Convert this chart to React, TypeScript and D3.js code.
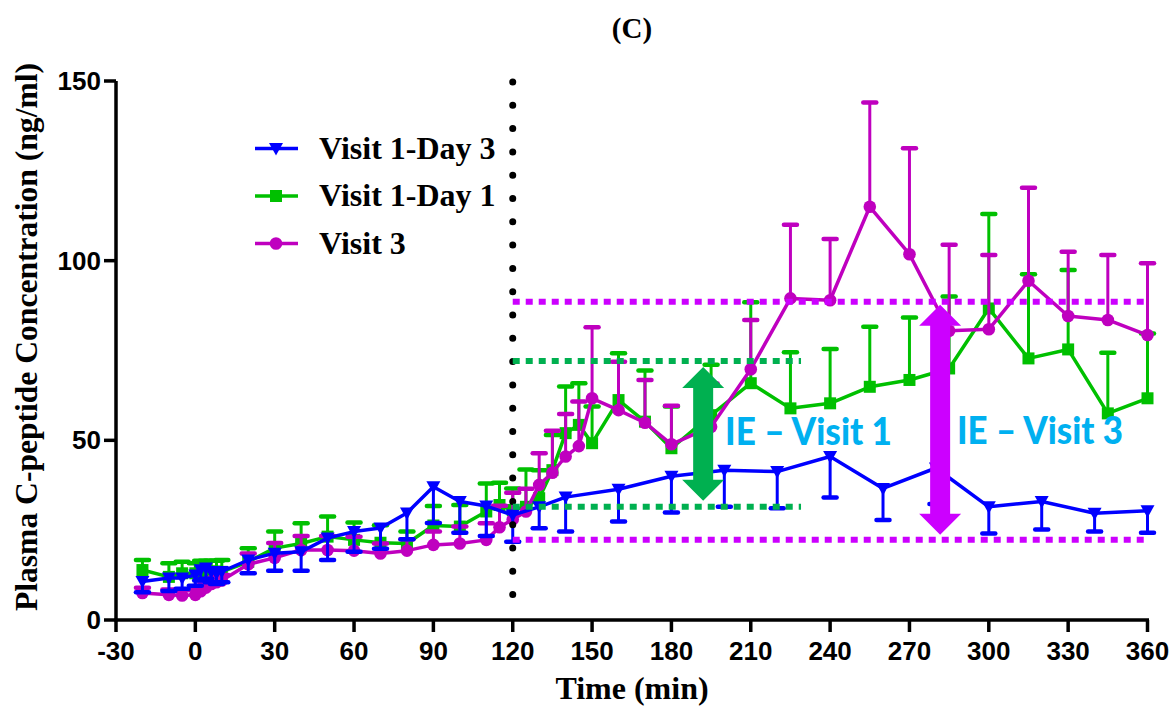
import React from 'react';
import * as d3 from 'd3';

// sampling times (min)
const timesV1D3 = [-20, -10, -5, 0, 2, 4, 6, 8, 10, 20, 30, 40, 50, 60, 70, 80, 90, 100, 110, 120, 130, 140, 160, 180, 200, 220, 240, 260, 280, 300, 320, 340, 360];
const timesV1D1 = [-20, -10, -5, 0, 2, 4, 6, 8, 10, 20, 30, 40, 50, 60, 70, 80, 90, 100, 110, 115, 120, 125, 130, 135, 140, 145, 150, 160, 170, 180, 195, 210, 225, 240, 255, 270, 285, 300, 315, 330, 345, 360];
const timesV3 = timesV1D1;

// Visit 1-Day 3 (error bars drawn downward)
const meanV1D3 = [10.7, 11.7, 11.7, 12.5, 14, 14.5, 13.5, 13, 13.5, 16.7, 18.6, 19, 22.8, 24.6, 25.6, 29.8, 37.1, 33, 31.7, 29.2, 31.5, 34.2, 36.4, 40, 41.7, 41.3, 45.5, 36.6, 42.3, 31.5, 33, 29.7, 30.4];
const semV1D3 = [3, 3.6, 3, 3, 3, 3, 3, 3, 3, 3.7, 4.9, 5.3, 6.1, 5.6, 5.8, 7.3, 10.1, 8.7, 8.3, 7.4, 6, 9.6, 9, 10.1, 10.2, 10.2, 11.4, 8.8, 10, 7.4, 7.8, 5.1, 6.1];

// Visit 1-Day 1 (error bars drawn upward)
const meanV1D1 = [13.9, 12, 13, 13, 13.5, 13.5, 13.5, 13.5, 13.4, 16.2, 20, 21.3, 23.2, 22.3, 21.5, 21.3, 26.3, 26, 30.2, 32, 30.6, 31.5, 33.9, 41.7, 52, 54.3, 49.2, 61.2, 55.2, 47.8, 57, 65.9, 58.9, 60.3, 64.9, 66.8, 70, 86.7, 72.8, 75.3, 57.5, 61.7];
const semV1D1 = [2.8, 3.8, 3.2, 2.8, 3, 3, 3, 3, 3.3, 3.8, 4.6, 5.6, 5.6, 4.8, 4.9, 3.3, 5.4, 6, 7.8, 6.2, 6, 10.4, 7.8, 9.8, 13, 11.6, 10.2, 13, 14.2, 11.6, 14, 22.5, 15.6, 15.1, 16.7, 17.4, 20, 26.3, 23.4, 22.1, 16.9, 18];

// Visit 3 (error bars drawn upward)
const meanV3 = [7.5, 7, 6.8, 7, 8, 9, 10, 10.5, 11, 15.5, 17.3, 19.5, 19.5, 19.3, 18.5, 19.3, 20.9, 21.3, 22.3, 25.8, 28, 30.2, 37.6, 41, 45.5, 48.4, 61.7, 58.4, 54.9, 48.9, 53.8, 69.8, 89.5, 89, 115, 101.8, 80.5, 80.9, 94.4, 84.6, 83.5, 79.3];
const semV3 = [1.5, 1.5, 1.5, 1.5, 1.5, 1.5, 1.5, 1.5, 1.5, 3, 4.1, 3.9, 3.9, 3.9, 2.8, 3.2, 3.7, 4.7, 4.6, 6, 7.4, 6.3, 8.8, 11.7, 11.8, 12.4, 19.8, 13.5, 11.9, 10.7, 12, 13.7, 20.5, 17, 29, 29.5, 23.9, 20.7, 25.9, 17.9, 18.1, 20];

const xTicks = [-30, 0, 30, 60, 90, 120, 150, 180, 210, 240, 270, 300, 330, 360];
const yTicks = [0, 50, 100, 150];

// incremental-effect reference levels
const ieVisit1 = { low: 31.5, high: 72.1, from: 120, to: 229, arrowAt: 192, tipLow: 33.2, tipHigh: 70.4 };
const ieVisit3 = { low: 22.3, high: 88.6, from: 120, to: 360, arrowAt: 281.6, tipLow: 23.7, tipHigh: 87.7 };

const BLUE = '#0000ff';
const GREEN = '#00c000';
const MAGENTA = '#bf00bf';
const IE_GREEN = '#00b050';
const IE_VIOLET = '#cc00ff';
const CYAN = '#00b0f0';
const SERIF = '"Liberation Serif", "Times New Roman", serif';
const SANS = '"Liberation Sans", Arial, sans-serif';

const x = d3.scaleLinear().domain([-30, 360]).range([116, 1147.5]);
const y = d3.scaleLinear().domain([0, 150]).range([620, 81]);

type Pt = { t: number; v: number; e: number };
const zip = (t: number[], m: number[], e: number[]): Pt[] => t.map((tt, i) => ({ t: tt, v: m[i], e: e[i] }));

const seriesList = [
  { name: 'Visit 1-Day 1', color: GREEN, shape: 'square', dir: 1, pts: zip(timesV1D1, meanV1D1, semV1D1) },
  { name: 'Visit 3', color: MAGENTA, shape: 'circle', dir: 1, pts: zip(timesV3, meanV3, semV3) },
  { name: 'Visit 1-Day 3', color: BLUE, shape: 'triangle', dir: -1, pts: zip(timesV1D3, meanV1D3, semV1D3) },
];
const legendOrder = [seriesList[2], seriesList[0], seriesList[1]];

function Marker({ shape, cx, cy, color, s = 1 }: { shape: string; cx: number; cy: number; color: string; s?: number }) {
  if (shape === 'circle') return <circle cx={cx} cy={cy} r={6.3 * s} fill={color} />;
  if (shape === 'square') return <rect x={cx - 6 * s} y={cy - 6 * s} width={12 * s} height={12 * s} fill={color} />;
  const p = d3.path();
  p.moveTo(cx - 7 * s, cy - 5.5 * s);
  p.lineTo(cx + 7 * s, cy - 5.5 * s);
  p.lineTo(cx, cy + 7 * s);
  p.closePath();
  return <path d={p.toString()} fill={color} />;
}

function doubleArrow(cx: number, yTop: number, yBot: number) {
  const hw = 21, sw = 10, hh = 21;
  const p = d3.path();
  p.moveTo(cx, yTop);
  p.lineTo(cx + hw, yTop + hh);
  p.lineTo(cx + sw, yTop + hh);
  p.lineTo(cx + sw, yBot - hh);
  p.lineTo(cx + hw, yBot - hh);
  p.lineTo(cx, yBot);
  p.lineTo(cx - hw, yBot - hh);
  p.lineTo(cx - sw, yBot - hh);
  p.lineTo(cx - sw, yTop + hh);
  p.lineTo(cx - hw, yTop + hh);
  p.closePath();
  return p.toString();
}

export default function App() {
  const line = d3.line<Pt>().x((d) => x(d.t)).y((d) => y(d.v));
  const x0 = x.range()[0];
  const y0 = y.range()[0];

  return (
    <svg width={1174} height={708} style={{ position: 'absolute', left: 0, top: 0, background: '#fff' }}>
      {/* title */}
      <text x={632} y={38} textAnchor="middle" fontFamily={SERIF} fontWeight="bold" fontSize={29}>(C)</text>

      {/* series */}
      {seriesList.map((s) => (
        <g key={s.name}>
          {s.pts.map((d, i) => {
            const yEnd = y(d.v + s.dir * d.e);
            return (
              <g key={i} stroke={s.color} strokeWidth={3}>
                <line x1={x(d.t)} x2={x(d.t)} y1={y(d.v)} y2={yEnd} />
                <line x1={x(d.t) - 6.5} x2={x(d.t) + 6.5} y1={yEnd} y2={yEnd} strokeWidth={4.5} strokeLinecap="round" />
              </g>
            );
          })}
          <path d={line(s.pts) || ''} fill="none" stroke={s.color} strokeWidth={3.5} strokeLinejoin="round" />
          {s.pts.map((d, i) => (
            <Marker key={i} shape={s.shape} cx={x(d.t)} cy={y(d.v)} color={s.color} />
          ))}
        </g>
      ))}

      {/* vertical dotted line at 120 min */}
      <line x1={x(120)} x2={x(120)} y1={82} y2={600} stroke="#000" strokeWidth={7} strokeLinecap="round" strokeDasharray="0 23.3" />

      {/* IE reference levels */}
      {[ieVisit3.high, ieVisit3.low].map((v, i) => (
        <line key={'m' + i} x1={x(ieVisit3.from)} x2={x(ieVisit3.to)} y1={y(v)} y2={y(v)} stroke={IE_VIOLET} strokeWidth={6} strokeDasharray="7 6" />
      ))}
      {[ieVisit1.high, ieVisit1.low].map((v, i) => (
        <line key={'g' + i} x1={x(ieVisit1.from)} x2={x(ieVisit1.to)} y1={y(v)} y2={y(v)} stroke={IE_GREEN} strokeWidth={6} strokeDasharray="7 6" />
      ))}
      <path d={doubleArrow(x(ieVisit1.arrowAt), y(ieVisit1.tipHigh), y(ieVisit1.tipLow))} fill={IE_GREEN} />
      <path d={doubleArrow(x(ieVisit3.arrowAt), y(ieVisit3.tipHigh), y(ieVisit3.tipLow))} fill={IE_VIOLET} />
      <text x={725} y={445} fontFamily="Lato, 'Open Sans', sans-serif" fontWeight="900" fontSize={38} fill={CYAN} textLength={167} lengthAdjust="spacingAndGlyphs">IE – Visit 1</text>
      <text x={957} y={444} fontFamily="Lato, 'Open Sans', sans-serif" fontWeight="900" fontSize={38} fill={CYAN} textLength={166} lengthAdjust="spacingAndGlyphs">IE – Visit 3</text>

      {/* legend */}
      {legendOrder.map((s, i) => {
        const ly = 148.5 + i * 47.5;
        return (
          <g key={s.name}>
            <line x1={255} x2={298} y1={ly} y2={ly} stroke={s.color} strokeWidth={3.5} />
            <Marker shape={s.shape} cx={276} cy={ly} color={s.color} />
            <text x={319} y={ly + 10} fontFamily={SERIF} fontWeight="bold" fontSize={32}>{s.name}</text>
          </g>
        );
      })}

      {/* axes */}
      <g stroke="#000" strokeWidth={3.5}>
        <line x1={x0} x2={x0} y1={y(150)} y2={y0 + 1.5} />
        <line x1={x0 - 1.5} x2={x(360) + 1.5} y1={y0} y2={y0} />
        {yTicks.map((t) => (
          <line key={t} x1={x0 - 12} x2={x0} y1={y(t)} y2={y(t)} />
        ))}
        {xTicks.map((t) => (
          <line key={t} x1={x(t)} x2={x(t)} y1={y0} y2={y0 + 12} />
        ))}
      </g>
      {yTicks.map((t) => (
        <text key={t} x={x0 - 15} y={y(t) + 9} textAnchor="end" fontFamily={SANS} fontWeight="bold" fontSize={26}>{t}</text>
      ))}
      {xTicks.map((t) => (
        <text key={t} x={x(t)} y={660} textAnchor="middle" fontFamily={SANS} fontWeight="bold" fontSize={26}>{t}</text>
      ))}
      <text x={632} y={699} textAnchor="middle" fontFamily={SERIF} fontWeight="bold" fontSize={32}>Time (min)</text>
      <text transform="translate(37,337) rotate(-90)" textAnchor="middle" fontFamily={SERIF} fontWeight="bold" fontSize={31} textLength={548} lengthAdjust="spacingAndGlyphs">Plasma C-peptide Concentration (ng/ml)</text>
    </svg>
  );
}
